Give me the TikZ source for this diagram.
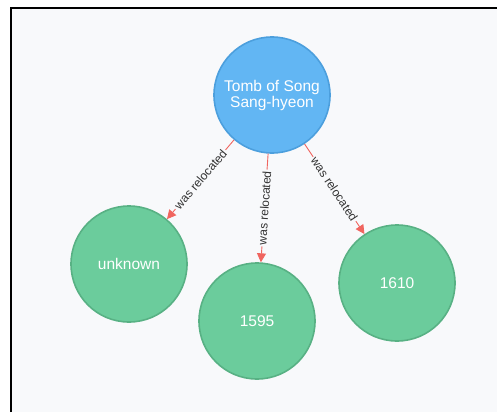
\documentclass[tikz,border=0pt]{standalone}
\usepackage{fontspec}
\setmainfont{Liberation Sans}
\usetikzlibrary{arrows.meta}
\definecolor{bgpanel}{HTML}{F8F9FB}
\definecolor{tombfill}{HTML}{62B6F3}
\definecolor{tombline}{HTML}{4C9FDD}
\definecolor{datefill}{HTML}{6BCC9C}
\definecolor{dateline}{HTML}{58B184}
\definecolor{relred}{HTML}{F0655F}

\begin{document}
\begin{tikzpicture}[x=1pt,y=-1pt,
  place/.style={circle,minimum size=116pt,inner sep=0pt,line width=1.6pt,text=white,
    align=center,font=\fontsize{15.5}{16}\selectfont},
  tomb/.style={place,fill=tombfill,draw=tombline},
  date/.style={place,fill=datefill,draw=dateline},
  rel/.style={draw=relred,line width=0.9pt,-{Triangle[length=9pt,width=9pt]}},
  rellabel/.style={sloped,fill=bgpanel,inner sep=1.5pt,text=black!80,
    font=\fontsize{12}{12}\selectfont}]
\useasboundingbox (0,0) rectangle (497,412);
\fill[white] (0,0) rectangle (497,412);
\fill[bgpanel] (11,8) rectangle (497,412);
\draw[line width=2pt] (11,412) -- (11,8) -- (497,8); % frame, left and top only
\node[tomb] (tomb) at (272,95) {Tomb of Song\\Sang-hyeon};
\node[date] (unknown) at (129,264) {unknown};
\node[date] (d1595) at (257,321) {1595};
\node[date] (d1610) at (397,283) {1610};
\draw[rel] (tomb) -- node[rellabel] {was relocated} (unknown);
\draw[rel] (tomb) -- node[rellabel] {was relocated} (d1595);
\draw[rel] (tomb) -- node[rellabel] {was relocated} (d1610);
\end{tikzpicture}
\end{document}
